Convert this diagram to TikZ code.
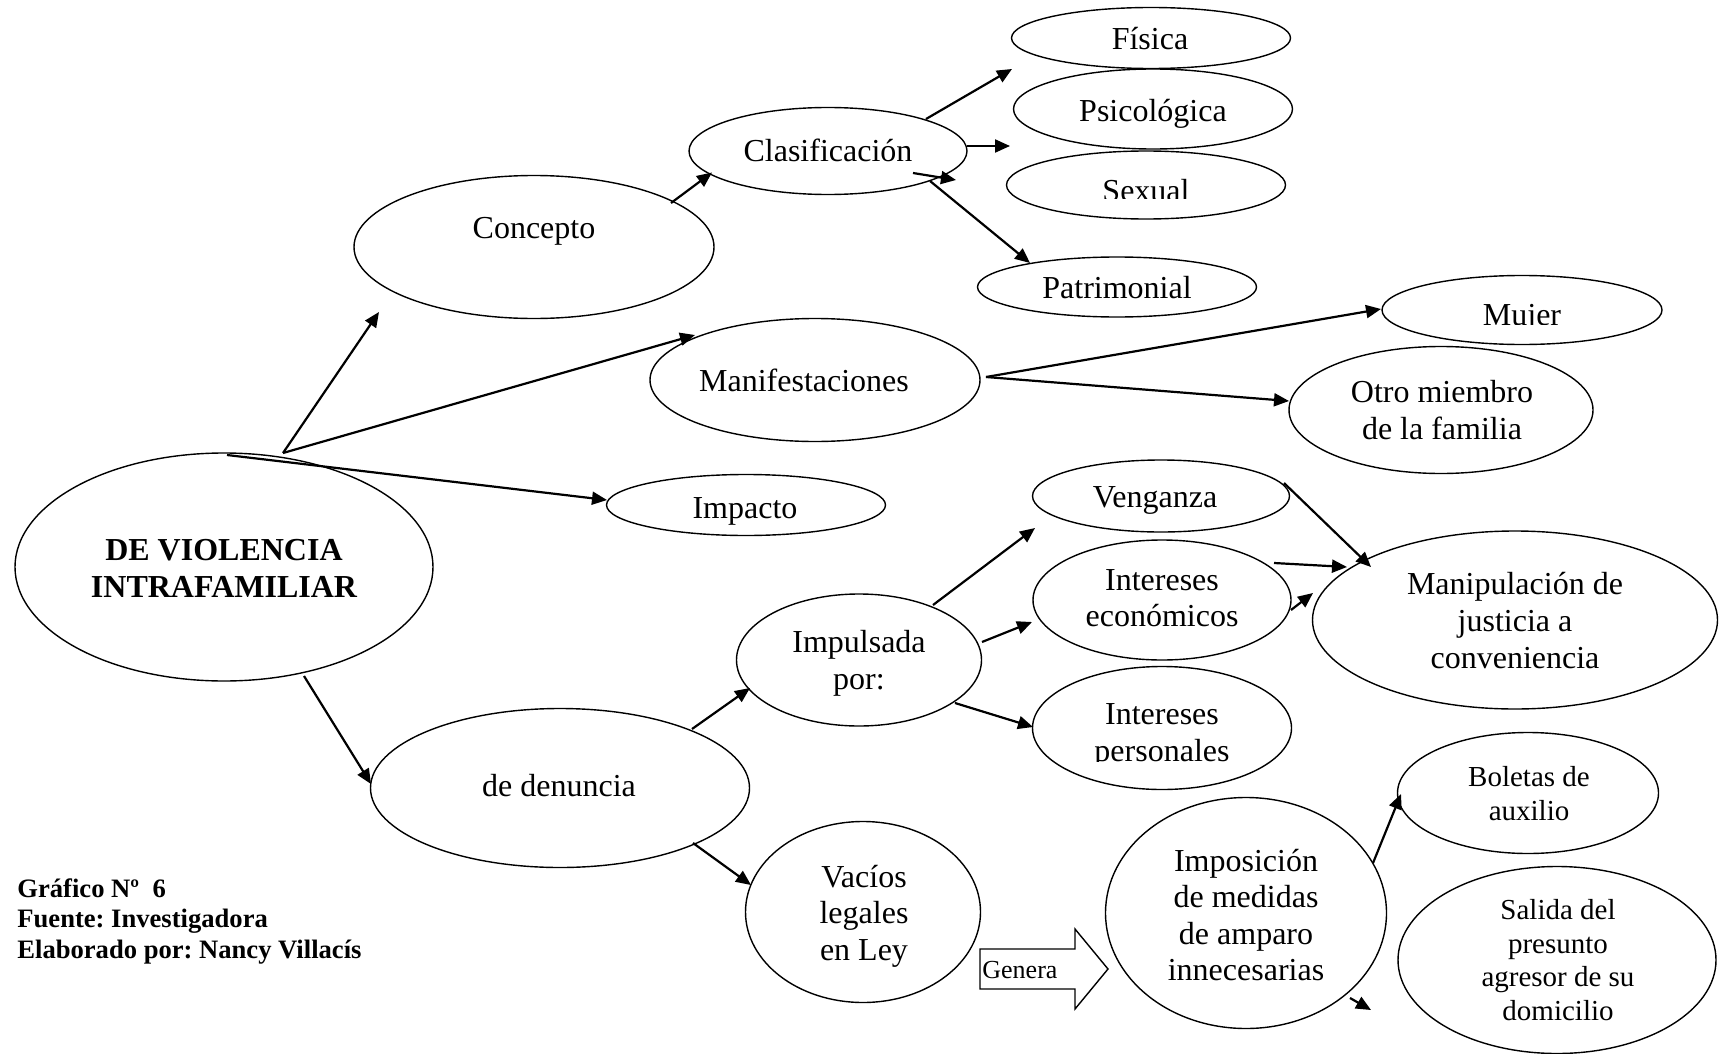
\documentclass[tikz,border=0pt]{standalone}
\usepackage{fontspec}
\setmainfont{Liberation Serif}
\usetikzlibrary{shapes.geometric,arrows.meta}
\frenchspacing
\begin{document}
\begin{tikzpicture}[x=0.5pt,y=-0.5pt,
  ell/.style={draw,ellipse,line width=0.7pt,inner sep=0pt},
  txt/.style={font=\fontsize{16}{18.3}\selectfont,align=center,inner sep=0pt},
  stxt/.style={font=\fontsize{14.5}{16.7}\selectfont,align=center,inner sep=0pt},
  arr/.style={-{Triangle[length=7.5pt,width=6.5pt]},line width=1.1pt}]
\useasboundingbox (0,0) rectangle (1723,1054);
% ellipses
\node[ell,minimum width=209pt,minimum height=114pt] (main) at (224,567) {};
\node[ell,minimum width=180pt,minimum height=71.5pt] (concepto) at (534,247) {};
\node[ell,minimum width=139pt,minimum height=43.5pt] (clasif) at (828,151) {};
\node[ell,minimum width=139.5pt,minimum height=30.5pt] (fisica) at (1151,38) {};
\node[ell,minimum width=139.5pt,minimum height=40pt] (psico) at (1153,109) {};
\node[ell,minimum width=139.5pt,minimum height=34pt] (sexual) at (1146,185) {};
\node[ell,minimum width=139.5pt,minimum height=30pt] (patri) at (1117,287) {};
\node[ell,minimum width=165pt,minimum height=61.5pt] (manif) at (815,380) {};
\node[ell,minimum width=140pt,minimum height=34.5pt] (mujer) at (1522,310) {};
\node[ell,minimum width=152pt,minimum height=63.5pt] (otro) at (1441,410) {};
\node[ell,minimum width=139.5pt,minimum height=30.5pt] (impacto) at (746,505) {};
\node[ell,minimum width=128.5pt,minimum height=36pt] (venganza) at (1161,496) {};
\node[ell,minimum width=129pt,minimum height=60pt] (economicos) at (1162,600) {};
\node[ell,minimum width=129.5pt,minimum height=61.5pt] (personales) at (1162,728) {};
\node[ell,minimum width=202.5pt,minimum height=89pt] (manip) at (1515,620) {};
\node[ell,minimum width=122.5pt,minimum height=66pt] (impulsada) at (859,660) {};
\node[ell,minimum width=189.5pt,minimum height=79.5pt] (denuncia) at (560,788) {};
\node[ell,minimum width=117.5pt,minimum height=90.5pt] (vacios) at (863,912) {};
\node[ell,minimum width=140.5pt,minimum height=115.5pt] (imposicion) at (1246,913) {};
\node[ell,minimum width=130.5pt,minimum height=60.5pt] (boletas) at (1528,793) {};
\node[ell,minimum width=159pt,minimum height=93.5pt] (salida) at (1557,960) {};
% texts
\node[txt,font=\fontsize{16}{18.5}\selectfont\bfseries] (tmain) at (224,568) {DE VIOLENCIA\\INTRAFAMILIAR};
\node[txt,anchor=base] (tconcepto) at (534,238) {Concepto};
\node[txt,anchor=base] (tclasif) at (828,162) {Clasificación};
\node[txt,anchor=base] (tfisica) at (1150,50) {Física};
\node[txt,anchor=base] (tpsico) at (1153,121) {Psicológica};
\begin{scope}
  \clip (1000,140) rectangle (1300,198);
  \node[txt,anchor=base] (tsexual) at (1146,201) {Sexual};
\end{scope}
\node[txt,anchor=base] (tpatri) at (1117,298) {Patrimonial};
\node[txt,anchor=base] (tmanif) at (804,391) {Manifestaciones};
\begin{scope}
  \clip (1380,270) rectangle (1665,324.5);
  \node[txt,anchor=base] (tmujer) at (1522,325) {Mujer};
\end{scope}
\node[txt] (totro) at (1442,410) {Otro miembro\\de la familia};
\node[txt,anchor=base] (timpacto) at (745,518) {Impacto};
\node[txt,anchor=base] (tvenganza) at (1155,507) {Venganza};
\node[txt] (teconomicos) at (1162,598) {Intereses\\económicos};
\begin{scope}
  \clip (1030,660) rectangle (1295,761);
  \node[txt] (tpersonales) at (1162,736) {Intereses\\personales};
\end{scope}
\node[txt] (tmanip) at (1515,620.5) {Manipulación de\\justicia a\\conveniencia};
\node[txt] (timpulsada) at (859,663) {Impulsada\\por:};
\node[txt,anchor=base] (tdenuncia) at (559,796) {de denuncia};
\node[txt] (tvacios) at (864,916) {Vacíos\\legales\\en Ley};
\node[txt] (timposicion) at (1246,915) {Imposición\\de medidas\\de amparo\\innecesarias};
\node[stxt] (tboletas) at (1529,793.5) {Boletas de\\auxilio};
\node[stxt] (tsalida) at (1558,960) {Salida del\\presunto\\agresor de su\\domicilio};
% Genera block arrow
\draw[line width=0.7pt] (980,949) -- (1075,949) -- (1075,929) -- (1108,969) -- (1075,1009) -- (1075,989) -- (980,989) -- cycle;
\node[font=\fontsize{13}{15}\selectfont,anchor=base west,inner sep=0pt] (genera) at (982,978) {Genera};
% footnote
\node[anchor=north west,font=\fontsize{13.3}{15.25}\selectfont\bfseries,align=left,inner sep=0pt] (foot) at (17,878) {Gráfico Nº\ \ 6\\Fuente: Investigadora\\Elaborado por: Nancy Villacís};
% connectors
\draw[arr] ([shift={(59,-114)}]main.center) -- ([shift={(-155,65)}]concepto.center);
\draw[arr] ([shift={(59,-114)}]main.center) -- ([shift={(-120,-45)}]manif.center);
\draw[arr] ([shift={(3,-112)}]main.center) -- ([shift={(-139,-5)}]impacto.center);
\draw[arr] ([shift={(80,109)}]main.center) -- ([shift={(-189,-4)}]denuncia.center);
\draw[arr] ([shift={(137,-44)}]concepto.center) -- ([shift={(-116,21.5)}]clasif.center);
\draw[arr] ([shift={(98,-32)}]clasif.center) -- ([shift={(-139,31)}]fisica.center);
\draw[arr] ([shift={(139,-5)}]clasif.center) -- ([shift={(-143,37)}]psico.center);
\draw[arr] ([shift={(85,22)}]clasif.center) -- ([shift={(-190,-5)}]sexual.center);
\draw[arr] ([shift={(102,30)}]clasif.center) -- ([shift={(-87,-24)}]patri.center);
\draw[arr] ([shift={(171,-3)}]manif.center) -- ([shift={(-141,-1)}]mujer.center);
\draw[arr] ([shift={(171,-3)}]manif.center) -- ([shift={(-152,-9)}]otro.center);
\draw[arr] ([shift={(132,-59)}]denuncia.center) -- ([shift={(-109,28)}]impulsada.center);
\draw[arr] ([shift={(133,55)}]denuncia.center) -- ([shift={(-112,-27)}]vacios.center);
\draw[arr] ([shift={(74,-55)}]impulsada.center) -- ([shift={(-126,32)}]venganza.center);
\draw[arr] ([shift={(123,-18)}]impulsada.center) -- ([shift={(-130,22)}]economicos.center);
\draw[arr] ([shift={(96,43)}]impulsada.center) -- ([shift={(-129,-1)}]personales.center);
\draw[arr] ([shift={(123,-13)}]venganza.center) -- ([shift={(-144,-53)}]manip.center);
\draw[arr] ([shift={(112,-37)}]economicos.center) -- ([shift={(-168,-53)}]manip.center);
\draw[arr] ([shift={(129,10)}]economicos.center) -- ([shift={(-202,-27)}]manip.center);
\draw[arr] ([shift={(127,-50)}]imposicion.center) -- ([shift={(-127,1)}]boletas.center);
\coordinate (loose) at (1371,1010);
\draw[arr] ([shift={(104,85)}]imposicion.center) -- (loose);
\end{tikzpicture}
\end{document}
